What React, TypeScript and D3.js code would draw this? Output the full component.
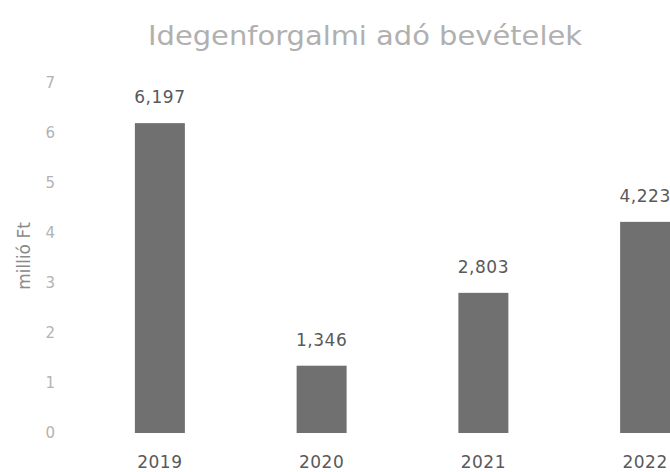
import React from "react";
import * as d3 from "d3";

const categories = ["2019", "2020", "2021", "2022"];
const values = [6.197, 1.346, 2.803, 4.223];
const valueLabels = ["6,197", "1,346", "2,803", "4,223"];
const yTicks = [0, 1, 2, 3, 4, 5, 6, 7];
const title = "Idegenforgalmi adó bevételek";
const yTitle = "millió Ft";

const W = 670;
const H = 472;

export default function App() {
  const x = d3.scalePoint<string>().domain(categories).range([79, 726]).padding(0.5);
  const y = d3.scaleLinear().domain([0, 7]).range([433, 83]);
  const barW = 50;
  const font = "'DejaVu Sans', sans-serif";
  return (
    <svg
      width={W}
      height={H}
      style={{ position: "absolute", left: 0, top: 0, background: "#fff" }}
    >
      <text
        x={365}
        y={45}
        textAnchor="middle"
        fontFamily={font}
        fontSize={27}
        fill="#b0b0b0"
        textLength={434}
        lengthAdjust="spacingAndGlyphs"
      >
        {title}
      </text>
      <text
        transform={`translate(30,256) rotate(-90)`}
        textAnchor="middle"
        fontFamily={font}
        fontSize={17}
        fill="#8a8a8a"
      >
        {yTitle}
      </text>
      {yTicks.map((t) => (
        <text
          key={t}
          x={55}
          y={y(t)}
          dy="0.35em"
          textAnchor="end"
          fontFamily={font}
          fontSize={15}
          fill="#b3b3b3"
        >
          {t}
        </text>
      ))}
      {categories.map((c, i) => (
        <g key={c}>
          <rect
            x={(x(c) as number) - barW / 2}
            y={y(values[i])}
            width={barW}
            height={y(0) - y(values[i])}
            fill="#707070"
          />
          <text
            x={x(c)}
            y={y(values[i]) - 20}
            textAnchor="middle"
            fontFamily={font}
            fontSize={17}
            letterSpacing={0.5}
            fill="#595959"
          >
            {valueLabels[i]}
          </text>
          <text
            x={x(c)}
            y={468}
            textAnchor="middle"
            fontFamily={font}
            fontSize={17}
            letterSpacing={0.5}
            fill="#595959"
          >
            {c}
          </text>
        </g>
      ))}
    </svg>
  );
}
